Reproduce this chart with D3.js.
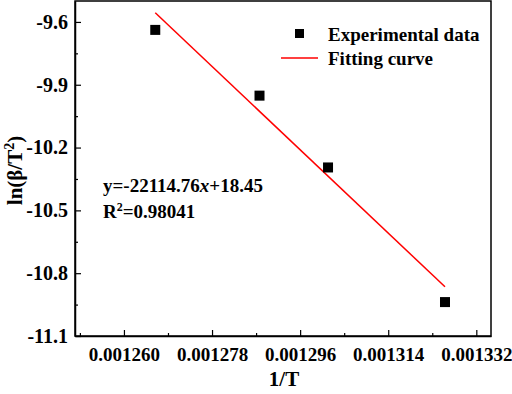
<!DOCTYPE html>
<html><head><meta charset="utf-8">
<script src="https://cdn.jsdelivr.net/npm/d3@7"></script>
<style>
body{margin:0;background:#fff;}
</style></head>
<body><svg id="c" width="512" height="394"></svg>
<script>
const pointsX = [0.0012664, 0.0012877, 0.0013017, 0.0013256];
const pointsY = [-9.638, -9.952, -10.295, -10.938];
const fitX = [0.0012664, 0.0013256];
const fitY = [-9.556, -10.865];
const xTicks = [0.001260, 0.001278, 0.001296, 0.001314, 0.001332];
const yTicks = [-9.6, -9.9, -10.2, -10.5, -10.8, -11.1];
const legendLabels = ["Experimental data", "Fitting curve"];

const FONT = "'Liberation Serif', 'Times New Roman', Times, 'DejaVu Serif', serif";
const svg = d3.select("#c");
const L = 75, R = 491, T = 1, B = 336;
const x = d3.scaleLinear().domain([0.00125, 0.001335]).range([L, R]);
const y = d3.scaleLinear().domain([-11.1, -9.5]).range([B, T]);

const xMinor = xTicks.map(v => v - 0.000009).filter(v => v >= 0.00125 && v <= 0.001335);
const yMinor = yTicks.map(v => v + 0.15).filter(v => v <= -9.5);

const g = svg.append("g");
g.append("rect").attr("x", L).attr("y", T).attr("width", R - L).attr("height", B - T)
  .attr("fill", "none").attr("stroke", "#000").attr("stroke-width", 1.5);

function styleText(sel, size) {
  sel.attr("font-family", FONT).style("font-family", FONT).style("font-weight", "bold").style("font-size", size + "px").attr("fill", "#000");
}

const xAxis = d3.axisBottom(x).tickValues(xTicks).tickFormat(d => d.toFixed(6)).tickSizeInner(-6).tickSizeOuter(0).tickPadding(12);
const gx = g.append("g").attr("transform", `translate(0,${B})`).call(xAxis);
gx.attr("font-family", FONT);
gx.select(".domain").attr("stroke-width", 1.5);
gx.selectAll(".tick line").attr("stroke-width", 1.2);
styleText(gx.selectAll("text"), 19);
const gxm = g.append("g").attr("transform", `translate(0,${B})`)
  .call(d3.axisBottom(x).tickValues(xMinor).tickFormat("").tickSizeInner(-3).tickSizeOuter(0));
gxm.select(".domain").remove();
gxm.selectAll(".tick line").attr("stroke-width", 1.2);

const yAxis = d3.axisLeft(y).tickValues(yTicks).tickFormat(d => d.toFixed(1)).tickSizeInner(-6).tickSizeOuter(0).tickPadding(7);
const gy = g.append("g").attr("transform", `translate(${L},0)`).call(yAxis);
gy.attr("font-family", FONT);
gy.select(".domain").attr("stroke-width", 1.5);
gy.selectAll(".tick line").attr("stroke-width", 1.2);
styleText(gy.selectAll("text"), 20);
const gym = g.append("g").attr("transform", `translate(${L},0)`)
  .call(d3.axisLeft(y).tickValues(yMinor).tickFormat("").tickSizeInner(-3).tickSizeOuter(0));
gym.select(".domain").remove();
gym.selectAll(".tick line").attr("stroke-width", 1.2);

const line = d3.line().x(d => x(d[0])).y(d => y(d[1]));
g.append("path").datum(d3.zip(fitX, fitY)).attr("d", line)
  .attr("fill", "none").attr("stroke", "#ff0000").attr("stroke-width", 1.5);

const s = 10;
g.selectAll(".pt").data(d3.zip(pointsX, pointsY)).enter().append("rect")
  .attr("x", d => x(d[0]) - s / 2).attr("y", d => y(d[1]) - s / 2)
  .attr("width", s).attr("height", s).attr("fill", "#000");

const lg = svg.append("g");
lg.append("rect").attr("x", 295).attr("y", 29).attr("width", 9).attr("height", 9).attr("fill", "#000");
lg.append("line").attr("x1", 281).attr("x2", 318).attr("y1", 58).attr("y2", 58).attr("stroke", "#ff0000").attr("stroke-width", 1.5);
styleText(lg.selectAll("text").data(legendLabels).enter().append("text")
  .attr("x", 328).attr("y", (d, i) => 41 + i * 24).text(d => d), 19);

const eq = svg.append("text").attr("x", 103).attr("y", 192);
styleText(eq, 19);
eq.append("tspan").text("y=-22114.76");
eq.append("tspan").style("font-style", "italic").text("x");
eq.append("tspan").text("+18.45");
const r2 = svg.append("text").attr("x", 103).attr("y", 218);
styleText(r2, 19);
r2.append("tspan").text("R");
r2.append("tspan").attr("dy", -7).style("font-size", "12px").text("2");
r2.append("tspan").attr("dy", 7).text("=0.98041");

styleText(svg.append("text").attr("x", 284).attr("y", 386).attr("text-anchor", "middle").text("1/T"), 21);
const yt = svg.append("text").attr("transform", `translate(22,${(T + B) / 2 + 2}) rotate(-90)`).attr("text-anchor", "middle");
styleText(yt, 21);
yt.append("tspan").text("ln(β/T");
yt.append("tspan").attr("dy", -8).style("font-size", "14px").text("2");
yt.append("tspan").attr("dy", 8).text(")");
</script></body></html>
